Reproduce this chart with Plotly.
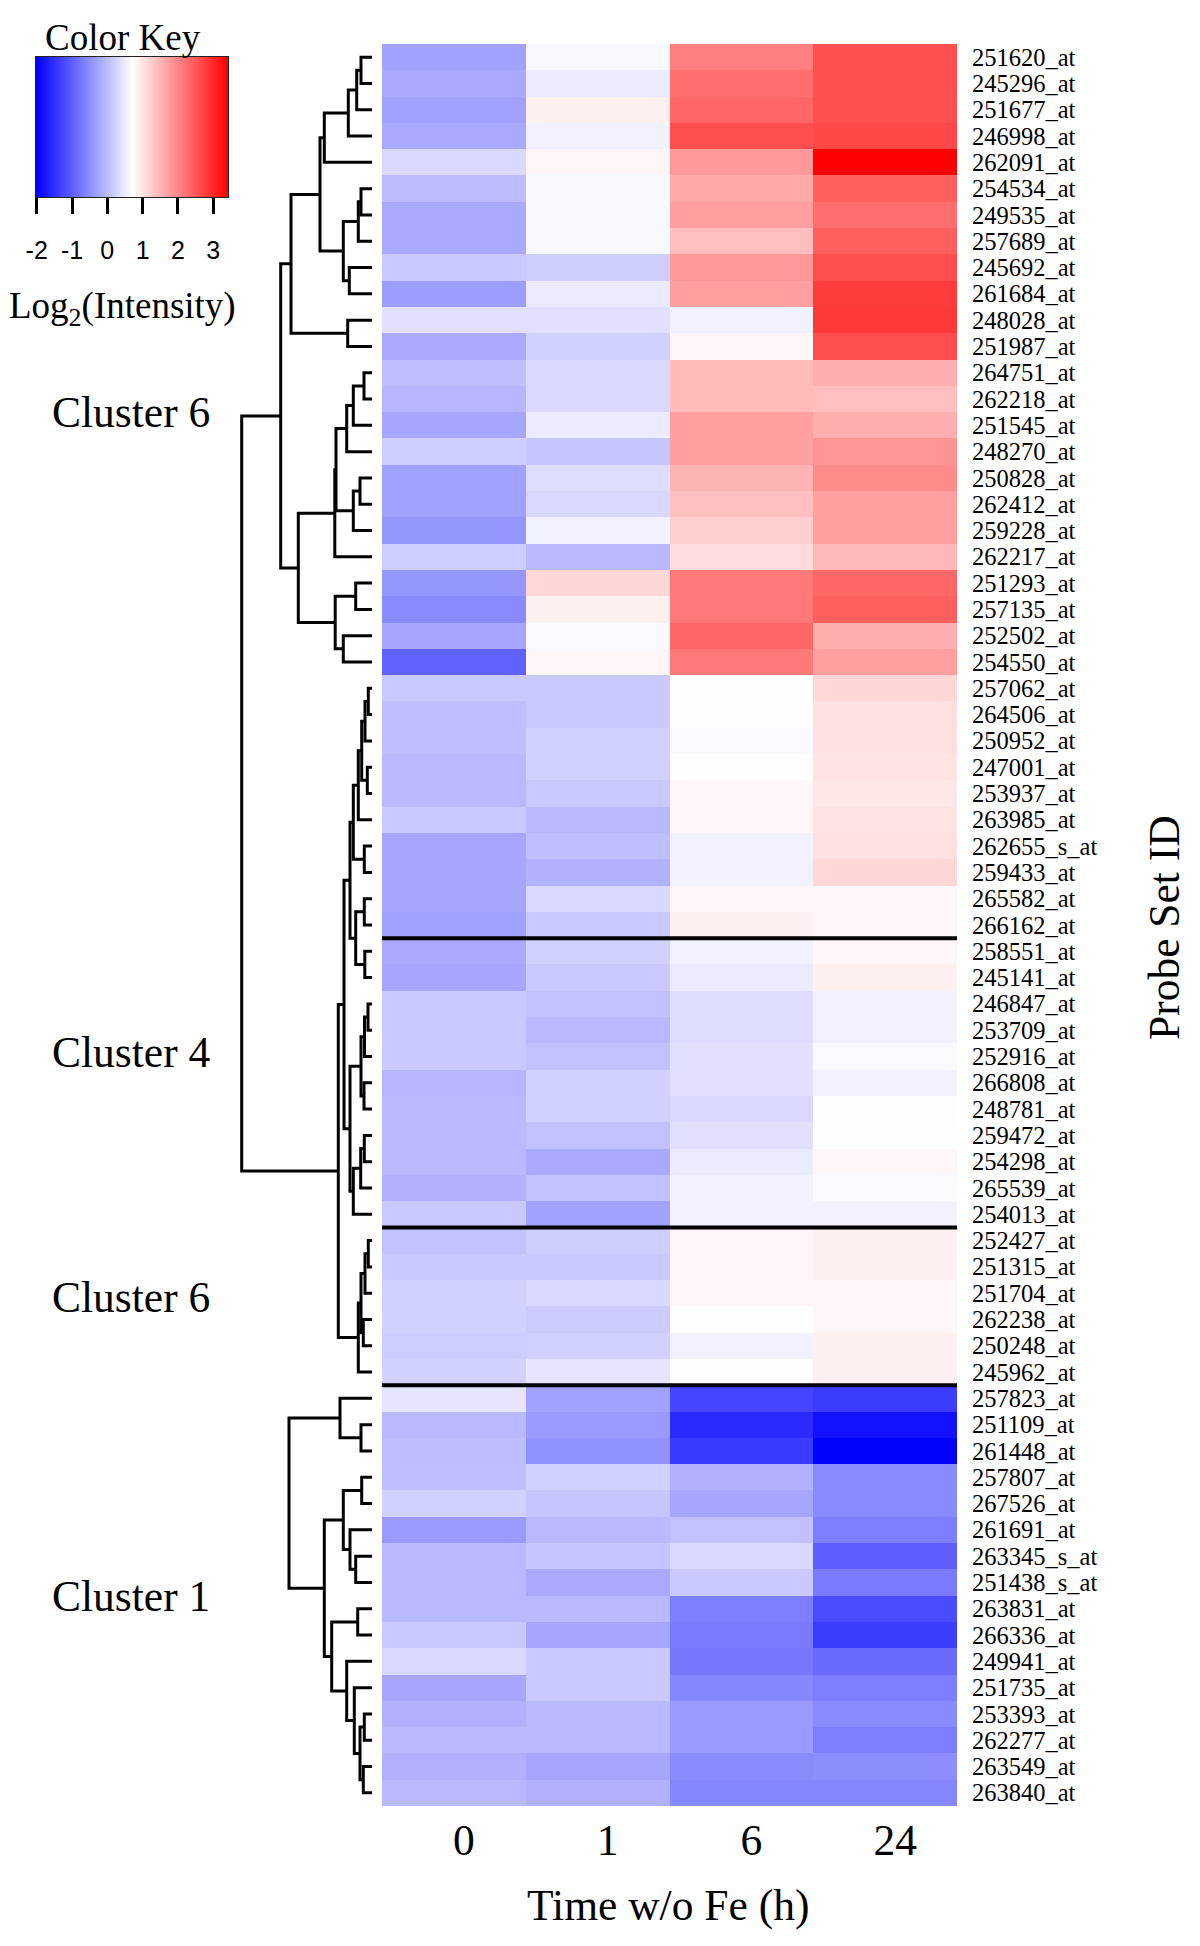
import plotly.graph_objects as go

# ---------------- data ----------------
rows = ["251620_at", "245296_at", "251677_at", "246998_at", "262091_at", "254534_at",
        "249535_at", "257689_at", "245692_at", "261684_at", "248028_at", "251987_at",
        "264751_at", "262218_at", "251545_at", "248270_at", "250828_at", "262412_at",
        "259228_at", "262217_at", "251293_at", "257135_at", "252502_at", "254550_at",
        "257062_at", "264506_at", "250952_at", "247001_at", "253937_at", "263985_at",
        "262655_s_at", "259433_at", "265582_at", "266162_at", "258551_at", "245141_at",
        "246847_at", "253709_at", "252916_at", "266808_at", "248781_at", "259472_at",
        "254298_at", "265539_at", "254013_at", "252427_at", "251315_at", "251704_at",
        "262238_at", "250248_at", "245962_at", "257823_at", "251109_at", "261448_at",
        "257807_at", "267526_at", "261691_at", "263345_s_at", "251438_s_at", "263831_at",
        "266336_at", "249941_at", "251735_at", "253393_at", "262277_at", "263549_at",
        "263840_at"]

times = ["0", "1", "6", "24"]

t0 = [-0.30, -0.21, -0.30, -0.21, 0.30, -0.01, -0.21, -0.21, 0.13, -0.34, 0.38, -0.21,
      0.02, -0.08, -0.25, 0.17, -0.30, -0.30, -0.42, 0.17, -0.42, -0.55, -0.25, -0.98,
      0.13, 0.02, 0.02, -0.04, -0.04, 0.13, -0.25, -0.25, -0.25, -0.30, -0.21, -0.25,
      0.13, 0.13, 0.13, -0.08, -0.04, -0.04, -0.04, -0.13, 0.13,
      0.04, 0.13, 0.21, 0.21, 0.17, 0.21,
      0.43, -0.04, 0.00, 0.02, 0.21, -0.38, -0.04, -0.04, -0.04, 0.13, 0.30, -0.25,
      -0.13, -0.04, -0.13, -0.04]
t1 = [0.63, 0.49, 0.87, 0.56, 0.79, 0.63, 0.63, 0.63, 0.19, 0.49, 0.38, 0.21,
      0.30, 0.30, 0.49, 0.09, 0.34, 0.28, 0.56, -0.04, 1.13, 0.87, 0.64, 0.79,
      0.13, 0.13, 0.21, 0.21, 0.13, -0.04, 0.02, -0.13, 0.30, 0.13, 0.21, 0.13,
      0.04, -0.04, 0.04, 0.21, 0.21, 0.04, -0.21, 0.04, -0.30,
      0.19, 0.13, 0.30, 0.15, 0.21, 0.43,
      -0.30, -0.38, -0.47, 0.21, 0.09, -0.04, 0.09, -0.21, -0.04, -0.25, 0.13, 0.13,
      -0.04, -0.04, -0.25, -0.13]
t6 = [2.07, 2.24, 2.34, 2.62, 1.81, 1.62, 1.73, 1.39, 1.81, 1.73, 0.56, 0.79,
      1.44, 1.44, 1.73, 1.73, 1.51, 1.39, 1.22, 1.09, 2.15, 2.15, 2.34, 2.15,
      0.715, 0.715, 0.64, 0.715, 0.79, 0.79, 0.56, 0.56, 0.79, 0.87, 0.56, 0.49,
      0.34, 0.34, 0.38, 0.38, 0.30, 0.38, 0.49, 0.56, 0.56,
      0.79, 0.79, 0.79, 0.715, 0.56, 0.715,
      -1.28, -1.57, -1.40, -0.13, -0.25, 0.04, 0.30, 0.13, -0.68, -0.72, -0.76, -0.59,
      -0.38, -0.38, -0.55, -0.59]
t24 = [2.58, 2.58, 2.58, 2.66, 3.43, 2.41, 2.24, 2.41, 2.62, 2.79, 2.83, 2.62,
       1.56, 1.39, 1.56, 1.85, 1.94, 1.73, 1.73, 1.47, 2.34, 2.41, 1.56, 1.73,
       1.13, 1.04, 1.04, 1.00, 0.96, 1.00, 1.04, 1.13, 0.79, 0.79, 0.79, 0.87,
       0.56, 0.56, 0.64, 0.56, 0.715, 0.715, 0.79, 0.64, 0.56,
       0.87, 0.87, 0.79, 0.79, 0.87, 0.87,
       -1.38, -1.83, -2.00, -0.55, -0.55, -0.68, -1.02, -0.72, -1.23, -1.38, -0.89, -0.68,
       -0.55, -0.68, -0.51, -0.59]

# dendrogram merges (hclust style: negative = leaf row, positive = earlier merge no.)
merges = [
    (-1, -2, 11.0), (1, -3, 15.3), (2, -4, 23.7), (3, -5, 47.7),
    (-6, -7, 11.0), (5, -8, 13.7), (-9, -10, 22.7), (6, 7, 28.7),
    (4, 8, 52.0), (-11, -12, 24.3), (9, 10, 81.0),
    (-13, -14, 8.0), (12, -15, 18.7), (13, -16, 25.3), (-17, -18, 12.0),
    (15, -19, 18.7), (14, 16, 36.0), (17, -20, 37.2), (-21, -22, 16.3),
    (-23, -24, 28.7), (19, 20, 36.8), (18, 21, 73.7), (11, 22, 91.3),
    (-25, -26, 3.7), (24, -27, 7.0), (-28, -29, 4.7), (25, 26, 10.3),
    (27, -30, 13.7), (-31, -32, 7.7), (28, 29, 18.7), (-33, -34, 7.7),
    (-35, -36, 7.2), (31, 32, 16.3), (30, 33, 22.0), (-37, -38, 4.0),
    (35, -39, 7.5), (-40, -41, 8.0), (36, 37, 11.0), (-42, -43, 7.7),
    (39, -44, 11.3), (40, -45, 18.7), (38, 41, 22.0), (34, 42, 28.0),
    (-46, -47, 3.7), (44, -48, 7.0), (-49, -50, 8.7), (45, 46, 11.0),
    (47, -51, 13.7), (43, 48, 33.7), (23, 49, 130.3),
    (-53, -54, 11.0), (-52, 51, 32.0), (-55, -56, 10.3), (-58, -59, 16.3),
    (-57, 54, 22.0), (53, 55, 28.7), (-60, -61, 14.3), (-64, -65, 7.7),
    (-66, -67, 8.7), (58, 59, 12.0), (-63, 60, 17.7), (-62, 61, 25.3),
    (57, 62, 40.3), (56, 63, 47.7), (52, 64, 83.0),
]

break_after = [34, 45, 51]
cluster_names = ["Cluster 6", "Cluster 4", "Cluster 6", "Cluster 1"]
key_range = [-2.02, 3.43]
key_ticks = [-2, -1, 0, 1, 2, 3]

# ---------------- layout helpers ----------------
W, H = 1200, 1946
SERIF = "Liberation Serif, Times New Roman, serif"
SANS = "Liberation Sans, Arial, sans-serif"
CSCALE = [[0, "rgb(0,0,255)"], [0.5, "rgb(255,255,255)"], [1, "rgb(255,0,0)"]]


def px(x):
    return x / W


def py(y):
    return (H - y) / H


HM_L, HM_R, HM_T, HM_B = 382, 957, 44, 1806
n = len(rows)
ypos = list(range(1, n + 1))
z = [[t0[i], t1[i], t6[i], t24[i]] for i in range(n)]

fig = go.Figure()

fig.add_trace(go.Heatmap(
    z=z, x=list(range(len(times))), y=ypos,
    zmin=key_range[0], zmax=key_range[1], colorscale=CSCALE, showscale=False,
    xaxis="x", yaxis="y", hoverinfo="z",
))

# colour key (gradient between the two key end values)
fig.add_trace(go.Heatmap(
    z=[key_range, key_range], x=key_range, y=[0, 1], zsmooth="best",
    zmin=key_range[0], zmax=key_range[1], colorscale=CSCALE, showscale=False,
    xaxis="x3", yaxis="y3", hoverinfo="skip",
))

# dendrogram from merges
node_h, node_y = [], []
xs, ys = [], []


def child(c):
    if c < 0:
        return 0.0, float(-c)
    return node_h[c - 1], node_y[c - 1]


for a, b, h in merges:
    ha, ya = child(a)
    hb, yb = child(b)
    xs += [ha, h, h, hb, None]
    ys += [ya, ya, yb, yb, None]
    node_h.append(h)
    node_y.append((ya + yb) / 2)

fig.add_trace(go.Scatter(
    x=xs, y=ys, mode="lines",
    line=dict(color="black", width=3),
    xaxis="x2", yaxis="y2", hoverinfo="skip", showlegend=False,
))

shapes = []
for r in break_after:
    shapes.append(dict(type="line", xref="x", yref="y",
                       x0=-0.5, x1=len(times) - 0.5, y0=r + 0.5, y1=r + 0.5,
                       line=dict(color="black", width=4)))


def label(text, x, y, size, **kw):
    return dict(text=text, x=px(x), y=py(y), xref="paper", yref="paper",
                xanchor="center", yanchor="middle", showarrow=False,
                font=dict(family=SERIF, size=size, color="black"), **kw)


annotations = [
    label("Color Key", 123, 38, 37),
    label("Log<sub>2</sub>(Intensity)", 123, 308, 37),
    label("Time w/o Fe (h)", 668, 1905, 43.5),
    label("Probe Set ID", 1164, 928, 43.5, textangle=-90),
]
for name, yy in zip(cluster_names, [412, 1052, 1297, 1596]):
    annotations.append(label(name, 131, yy, 43.5))

dom_y = [py(HM_B), py(HM_T)]
fig.update_layout(
    width=W, height=H,
    margin=dict(l=0, r=0, t=0, b=0, autoexpand=False),
    paper_bgcolor="white", plot_bgcolor="white",
    showlegend=False,
    xaxis=dict(domain=[px(HM_L), px(HM_R)], range=[-0.5, len(times) - 0.5],
               tickmode="array", tickvals=list(range(len(times))), ticktext=times,
               tickfont=dict(family=SERIF, size=43.5, color="black"),
               ticks="", showgrid=False, zeroline=False, showline=False,
               ticklabelstandoff=4, ticklabelshift=10, anchor="y", automargin=False),
    yaxis=dict(domain=dom_y, range=[n + 0.5, 0.5],
               tickmode="array", tickvals=ypos, ticktext=rows, side="right",
               tickfont=dict(family=SERIF, size=24.5, color="black"),
               ticks="", showgrid=False, zeroline=False, showline=False,
               ticklabelstandoff=14, anchor="x", automargin=False),
    xaxis2=dict(domain=[px(230), px(372)], range=[142, 0], visible=False,
                anchor="y2", automargin=False),
    yaxis2=dict(domain=dom_y, range=[n + 0.5, 0.5], visible=False,
                anchor="x2", automargin=False),
    xaxis3=dict(domain=[px(36), px(228.4)], range=key_range, anchor="y3",
                tickmode="array", tickvals=key_ticks, ticktext=[str(v) for v in key_ticks],
                ticks="outside", ticklen=16, tickwidth=3, tickcolor="black",
                tickfont=dict(family=SANS, size=25, color="black"),
                ticklabelstandoff=15,
                showline=True, mirror=True, linecolor="#222", linewidth=1,
                showgrid=False, zeroline=False, automargin=False),
    yaxis3=dict(domain=[py(197.3), py(56.7)], range=[0, 1], anchor="x3",
                showticklabels=False, ticks="", showgrid=False, zeroline=False,
                showline=True, mirror=True, linecolor="#222", linewidth=1,
                automargin=False),
    shapes=shapes,
    annotations=annotations,
)

fig.write_html("out.html", config={"displayModeBar": False},
               post_script="document.body.style.margin='0';")
